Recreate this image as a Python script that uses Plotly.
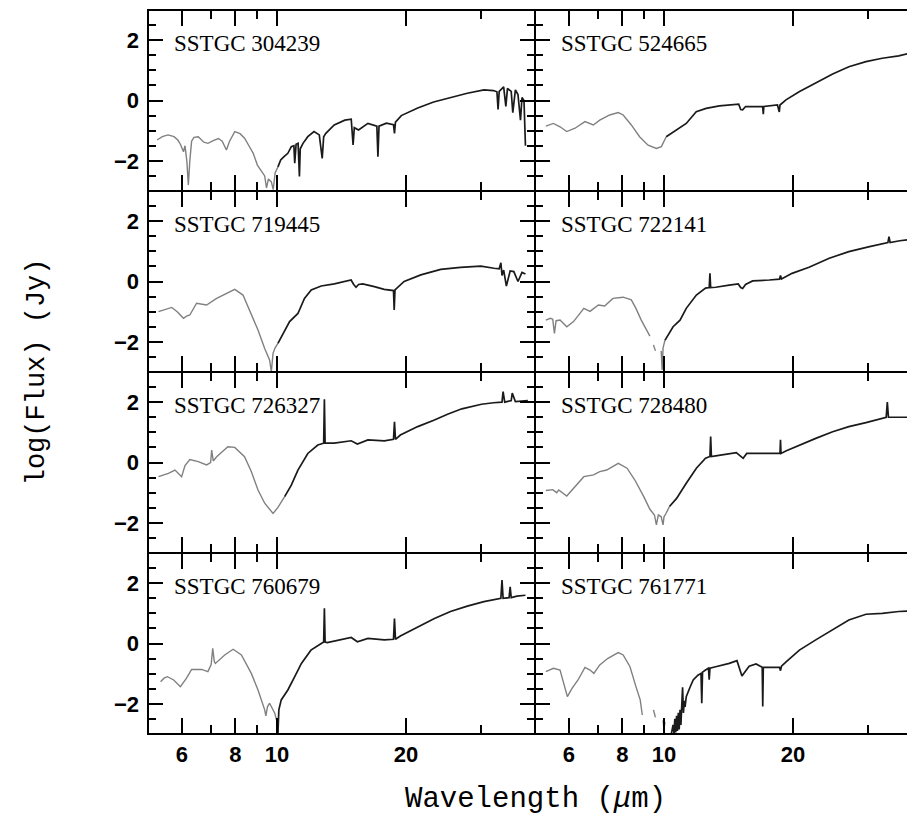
import math
import plotly.graph_objects as go
from plotly.subplots import make_subplots

# ---- spectra: wavelength (um) / log flux (Jy) ----
# short-wavelength (grey) and long-wavelength (black) pieces; None = gap

wl_304239_sl = [5.25, 5.4, 5.57, 5.75, 5.87, 5.95, 6.05, 6.1, 6.16, 6.21, 6.26, 6.32, 6.4, 6.55, 6.75,
                6.9, 7.1, 7.3, 7.45, 7.62, 7.75, 7.97, 8.2, 8.4, 8.6, 8.8, 9.0, 9.2, 9.36, 9.45, 9.55,
                9.7, 9.8, 9.9, 10.05]
fx_304239_sl = [-1.31, -1.2, -1.14, -1.2, -1.31, -1.45, -1.7, -1.5, -2.0, -2.8, -2.0, -1.35, -1.22, -1.2,
                -1.38, -1.42, -1.33, -1.26, -1.35, -1.64, -1.35, -1.03, -1.1, -1.25, -1.5, -1.75, -2.14,
                -2.35, -2.5, -2.9, -2.6, -2.7, -2.95, -2.4, -2.2]
wl_304239_ll = [10.05, 10.2, 10.4, 10.6, 10.8, 10.95, 11.0, 11.08, 11.2, 11.28, 11.33, 11.5, 11.8, 12.2,
                12.55, 12.75, 12.85, 13.0, 13.6, 14.4, 14.9, 15.05, 15.15, 15.5, 16.3, 17.1, 17.2, 17.3,
                18.0, 18.7, 18.8, 18.9, 19.5, 21.3, 23.2, 25.4, 27.8, 30.4, 32.0, 32.6, 32.8, 33.0, 33.8,
                34.2, 34.5, 35.2, 35.5, 36.0, 36.5, 37.0, 37.3, 37.7, 38.0]
fx_304239_ll = [-2.2, -1.97, -1.85, -1.75, -1.53, -1.5, -2.08, -1.45, -1.42, -2.52, -1.6, -1.42, -1.2,
                -1.03, -1.14, -1.92, -1.2, -1.09, -0.81, -0.65, -0.62, -1.47, -0.9, -0.98, -0.76, -0.85,
                -1.86, -0.85, -0.75, -0.8, -1.09, -0.72, -0.5, -0.25, -0.05, 0.1, 0.24, 0.35, 0.33, 0.29,
                -0.3, 0.3, 0.45, -0.2, 0.4, 0.3, -0.4, 0.35, 0.2, -0.65, 0.1, 0.0, -1.5]

wl_524665_sl = [5.3, 5.52, 5.72, 5.93, 6.2, 6.54, 6.84, 7.08, 7.47, 7.82, 8.03, 8.39, 8.77, 9.18, 9.6,
                9.86, 10.12]
fx_524665_sl = [-0.85, -0.76, -0.87, -1.03, -0.92, -0.7, -0.81, -0.65, -0.48, -0.4, -0.48, -0.81, -1.2,
                -1.48, -1.59, -1.53, -1.2]
wl_524665_ll = [10.12, 10.68, 11.27, 11.89, 12.54, 13.47, 14.21, 14.94, 15.1, 15.26, 15.5, 15.81, 16.99,
                17.05, 17.1, 18.4, 18.58, 18.65, 19.26, 20.67, 22.6, 24.75, 27.0, 29.6, 32.3, 35.3, 37.9,
                39.5]
fx_524665_ll = [-1.2, -0.98, -0.76, -0.37, -0.26, -0.18, -0.15, -0.12, -0.3, -0.31, -0.2, -0.2, -0.2,
                -0.45, -0.2, -0.15, -0.38, -0.15, 0.02, 0.29, 0.57, 0.88, 1.12, 1.29, 1.4, 1.48, 1.59, 1.65]

wl_719445_sl = [5.29, 5.5, 5.68, 5.85, 6.05, 6.15, 6.26, 6.49, 6.85, 7.23, 7.62, 7.97, 8.33, 8.71, 9.03,
                9.36, 9.5, 9.61, 9.7, 9.79, 9.9, 10.05]
fx_719445_sl = [-1.0, -0.92, -0.86, -1.0, -1.22, -1.15, -1.11, -0.72, -0.78, -0.56, -0.39, -0.26, -0.45,
                -1.06, -1.61, -2.22, -2.45, -2.6, -2.99, -2.38, -2.2, -2.05]
wl_719445_ll = [10.05, 10.42, 10.7, 11.19, 11.59, 12.02, 12.68, 13.61, 14.4, 14.89, 15.1, 15.29, 15.5,
                15.85, 16.87, 17.79, 18.7, 18.77, 18.85, 19.8, 21.66, 24.1, 26.8, 29.9, 32.1, 33.0, 33.3,
                33.5, 33.8, 34.3, 35.0, 35.7, 36.5, 37.3, 38.0]
fx_719445_ll = [-2.05, -1.66, -1.33, -1.06, -0.56, -0.28, -0.15, -0.08, 0.0, 0.05, -0.1, -0.19, -0.1,
                -0.08, -0.17, -0.26, -0.3, -0.94, -0.28, 0.0, 0.22, 0.4, 0.47, 0.51, 0.44, 0.42, 0.62, 0.2,
                0.38, -0.15, 0.35, 0.33, 0.0, 0.3, 0.25]

wl_722141_sl = [5.3, 5.43, 5.5, 5.55, 5.6, 5.72, 5.93, 6.15, 6.5, 6.72, 7.03, 7.27, 7.6, 8.03, 8.39, 8.6,
                8.85, 9.1, 9.27, None, 9.45, 9.55, None, 9.85, 9.9, 9.95, 10.05]
fx_722141_sl = [-1.28, -1.22, -1.25, -1.72, -1.3, -1.28, -1.5, -1.33, -0.89, -0.99, -0.78, -0.81, -0.56,
                -0.52, -0.61, -0.89, -1.28, -1.61, -1.81, None, -2.1, -2.3, None, -2.3, -2.93, -2.2, -1.95]
wl_722141_ll = [10.05, 10.3, 10.5, 10.9, 11.27, 11.9, 12.5, 12.75, 12.8, 12.85, 13.2, 14.2, 14.9, 15.1,
                15.26, 15.5, 16.1, 17.6, 18.6, 18.7, 18.8, 19.9, 21.8, 24.3, 27.0, 30.0, 33.3, 33.5, 33.7,
                35.5, 39.5]
fx_722141_ll = [-1.95, -1.7, -1.5, -1.28, -0.89, -0.45, -0.22, -0.2, 0.27, -0.2, -0.19, -0.12, -0.08,
                -0.2, -0.23, -0.1, 0.02, 0.05, 0.08, 0.2, 0.08, 0.27, 0.47, 0.77, 0.99, 1.15, 1.29, 1.49,
                1.29, 1.35, 1.43]

wl_726327_sl = [5.29, 5.58, 5.78, 5.99, 6.1, 6.26, 6.55, 6.85, 7.0, 7.04, 7.1, 7.23, 7.68, 7.97, 8.4,
                8.71, 9.03, 9.36, 9.79, 10.05, 10.42]
fx_726327_sl = [-0.47, -0.36, -0.25, -0.47, -0.1, 0.1, 0.03, -0.08, 0.0, 0.41, 0.05, 0.19, 0.52, 0.5,
                0.19, -0.3, -0.91, -1.35, -1.69, -1.49, -1.13]
wl_726327_ll = [10.42, 10.8, 11.19, 11.8, 12.45, 12.85, 12.9, 12.95, 13.6, 14.9, 15.4, 16.3, 17.8, 18.7,
                18.8, 18.9, 19.4, 21.3, 23.3, 25.0, 27.0, 30.0, 32.0, 33.5, 33.7, 34.0, 35.2, 35.4, 36.0,
                38.5]
fx_726327_ll = [-1.13, -0.75, -0.25, 0.3, 0.58, 0.64, 2.1, 0.64, 0.64, 0.72, 0.61, 0.75, 0.72, 0.77,
                1.35, 0.77, 0.91, 1.19, 1.41, 1.6, 1.78, 1.93, 1.98, 2.0, 2.35, 2.0, 2.05, 2.3, 2.02, 2.05]

wl_728480_sl = [5.3, 5.5, 5.62, 5.68, 5.93, 6.2, 6.5, 6.85, 7.08, 7.35, 7.82, 8.2, 8.55, 8.97, 9.27, 9.5,
                9.6, 9.7, 9.85, 9.95, 10.0, 10.1, 10.3]
fx_728480_sl = [-0.93, -0.9, -1.0, -0.91, -1.11, -0.8, -0.47, -0.41, -0.3, -0.25, -0.03, -0.19, -0.58,
                -1.13, -1.55, -1.74, -2.07, -1.74, -1.8, -2.07, -1.8, -1.7, -1.46]
wl_728480_ll = [10.3, 10.7, 11.27, 11.9, 12.5, 12.8, 12.85, 12.9, 13.2, 14.75, 15.3, 15.6, 17.0, 18.3,
                18.65, 18.7, 18.75, 19.3, 20.7, 22.6, 24.75, 27.0, 29.6, 31.3, 32.3, 33.0, 33.2, 33.4,
                35.0, 39.5]
fx_728480_ll = [-1.46, -1.19, -0.69, -0.19, 0.14, 0.2, 0.86, 0.2, 0.22, 0.33, 0.14, 0.3, 0.3, 0.3, 0.3,
                0.75, 0.3, 0.39, 0.58, 0.8, 1.02, 1.19, 1.32, 1.41, 1.48, 1.5, 2.0, 1.5, 1.5, 1.5]

wl_760679_sl = [5.35, 5.45, 5.55, 5.74, 5.95, 6.15, 6.32, 6.67, 6.9, 7.02, 7.08, 7.14, 7.18, 7.55, 7.9,
                8.26, 8.71, 9.03, 9.36, 9.42, 9.5, 9.61, 9.88, 10.0, 10.05]
fx_760679_sl = [-1.27, -1.15, -1.1, -1.21, -1.43, -1.15, -0.86, -0.86, -0.93, -0.7, -0.16, -0.6, -0.66,
                -0.38, -0.19, -0.38, -0.99, -1.54, -2.2, -2.4, -2.1, -1.98, -2.31, -2.6, -2.98]
wl_760679_ll = [10.05, 10.1, 10.23, 10.6, 11.0, 11.4, 12.0, 12.68, 12.85, 12.9, 12.95, 13.1, 14.0, 14.9,
                15.4, 16.3, 17.8, 18.7, 18.8, 18.9, 19.4, 21.3, 23.3, 25.4, 27.8, 30.4, 33.3, 33.5, 33.7,
                34.8, 35.0, 35.2, 36.3, 38.0]
fx_760679_ll = [-2.98, -2.2, -1.87, -1.54, -1.1, -0.66, -0.22, 0.0, 0.05, 1.17, 0.05, 0.03, 0.12, 0.2,
                0.06, 0.17, 0.12, 0.14, 0.83, 0.14, 0.25, 0.56, 0.83, 1.06, 1.24, 1.39, 1.5, 2.1, 1.5,
                1.52, 1.88, 1.52, 1.57, 1.6]

wl_761771_sl = [5.3, 5.52, 5.72, 5.8, 5.88, 5.95, 6.1, 6.3, 6.54, 6.72, 6.86, 7.08, 7.4, 7.82, 8.03,
                8.33, 8.6, 8.8, 8.9, None, 9.45, 9.55, None, 9.95, 10.0, 10.05]
fx_761771_sl = [-0.93, -0.82, -0.88, -1.2, -1.54, -1.76, -1.49, -1.21, -0.79, -0.88, -0.99, -0.71,
                -0.49, -0.3, -0.38, -0.77, -1.43, -1.87, -2.37, None, -2.2, -2.45, None, -2.55, -2.85,
                -2.6]
wl_761771_ll = [10.4, 10.5, 10.55, 10.6, 10.65, 10.7, 10.75, 10.8, 10.85, 10.9, 10.95, 11.0, 11.05,
                11.1, 11.15, 11.2, 11.27, 11.5, 11.7, 12.0, 12.2, 12.25, 12.3, 12.5, 12.7, 12.75, 12.8,
                13.2, 14.2, 14.8, 15.2, 15.8, 16.4, 16.95, 17.0, 17.05, 17.5, 18.6, 18.7, 18.8, 19.3,
                20.7, 22.6, 24.75, 27.0, 29.6, 32.3, 35.3, 37.5, 39.5]
fx_761771_ll = [-3.0, -2.7, -3.0, -2.5, -2.95, -2.4, -2.9, -2.3, -2.85, -2.2, -2.7, -2.1, -1.45, -2.3,
                -1.9, -2.1, -1.76, -1.45, -1.21, -1.05, -0.99, -1.98, -0.95, -0.88, -0.82, -1.2, -0.82,
                -0.77, -0.66, -0.57, -1.08, -0.75, -0.68, -0.79, -2.09, -0.79, -0.79, -0.79, -0.9, -0.75,
                -0.6, -0.22, 0.12, 0.45, 0.78, 0.97, 1.0, 1.06, 1.09, 1.1]

panels = [
    ("SSTGC 304239", wl_304239_sl, fx_304239_sl, wl_304239_ll, fx_304239_ll),
    ("SSTGC 524665", wl_524665_sl, fx_524665_sl, wl_524665_ll, fx_524665_ll),
    ("SSTGC 719445", wl_719445_sl, fx_719445_sl, wl_719445_ll, fx_719445_ll),
    ("SSTGC 722141", wl_722141_sl, fx_722141_sl, wl_722141_ll, fx_722141_ll),
    ("SSTGC 726327", wl_726327_sl, fx_726327_sl, wl_726327_ll, fx_726327_ll),
    ("SSTGC 728480", wl_728480_sl, fx_728480_sl, wl_728480_ll, fx_728480_ll),
    ("SSTGC 760679", wl_760679_sl, fx_760679_sl, wl_760679_ll, fx_760679_ll),
    ("SSTGC 761771", wl_761771_sl, fx_761771_sl, wl_761771_ll, fx_761771_ll),
]

x_major = [6, 8, 10, 20]
x_minor = [7, 9, 30]
y_major = [-2, 0, 2]
y_major_text = ["\u22122", "0", "2"]
y_minor = [-2.5, -1.5, -1, -0.5, 0.5, 1, 1.5, 2.5]

fig = make_subplots(rows=4, cols=2, horizontal_spacing=0, vertical_spacing=0)

for i, (name, ws, fs, wl, fl) in enumerate(panels):
    r, c = i // 2 + 1, i % 2 + 1
    fig.add_trace(go.Scatter(x=ws, y=fs, mode="lines", connectgaps=False,
                             line=dict(color="#808080", width=1.4), showlegend=False),
                  row=r, col=c)
    fig.add_trace(go.Scatter(x=wl, y=fl, mode="lines",
                             line=dict(color="#1a1a1a", width=1.7), showlegend=False),
                  row=r, col=c)
    # panel frame (shared edges coincide, so they stay one line thick)
    fig.add_shape(type="rect", xref="x domain", yref="y domain", x0=0, x1=1, y0=0, y1=1,
                  line=dict(color="black", width=2), row=r, col=c)
    fig.add_annotation(text=name, xref="x domain", yref="y domain", x=0, y=0.815,
                       xanchor="left", yanchor="middle", xshift=24, showarrow=False,
                       font=dict(family="Liberation Serif", size=23, color="black"),
                       row=r, col=c)

tick_font = dict(family="Liberation Sans", size=22, color="black", weight="bold")

fig.update_xaxes(type="log", range=[math.log10(5), math.log10(40)],
                 showline=False, mirror="ticks",
                 ticks="inside", ticklen=16, tickwidth=1.5, tickcolor="black",
                 tickvals=x_major, ticktext=[str(v) for v in x_major],
                 minor=dict(tickvals=x_minor, ticks="inside", ticklen=9, tickwidth=1.5,
                            tickcolor="black"),
                 showgrid=False, zeroline=False, tickfont=tick_font, ticklabelstandoff=5)
for r in (1, 2, 3):
    fig.update_xaxes(showticklabels=False, row=r)

fig.update_yaxes(range=[-3, 3], showline=False, mirror="ticks",
                 ticks="inside", ticklen=15, tickwidth=1.5, tickcolor="black",
                 tickvals=y_major, ticktext=y_major_text,
                 minor=dict(tickvals=y_minor, ticks="inside", ticklen=8, tickwidth=1.5,
                            tickcolor="black"),
                 showgrid=False, zeroline=False, tickfont=tick_font, ticklabelstandoff=8)
fig.update_yaxes(showticklabels=False, col=2)

fig.add_annotation(text="log(Flux) (Jy)", xref="paper", yref="paper", x=-0.143, y=0.5,
                   textangle=-90, showarrow=False, xanchor="center", yanchor="middle",
                   font=dict(family="Liberation Mono", size=27, color="black"))
fig.add_annotation(text="Wavelength (<i>\u03bc</i>m)", xref="paper", yref="paper", x=0.5,
                   y=-0.091, showarrow=False, xanchor="center", yanchor="middle",
                   font=dict(family="Liberation Mono", size=29, color="black"))

# page body adds an 8px offset; the right border lands just past the window edge
fig.update_layout(width=915, height=834, margin=dict(l=140, r=1, t=2, b=108),
                  paper_bgcolor="white", plot_bgcolor="white", showlegend=False)

fig.write_html("out.html")
